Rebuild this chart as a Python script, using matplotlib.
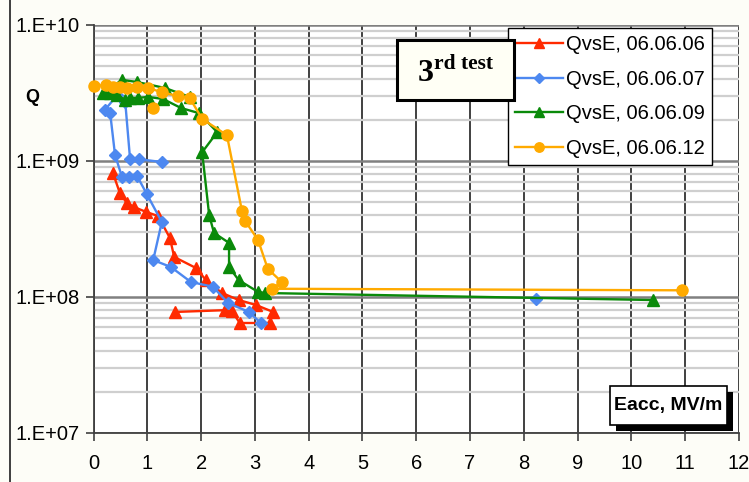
import matplotlib
matplotlib.use("Agg")
import matplotlib.pyplot as plt
import numpy as np
from matplotlib.patches import Rectangle
from matplotlib.ticker import FixedLocator, LogLocator, NullFormatter, FuncFormatter

plt.rcParams['font.family'] = ['Liberation Sans', 'DejaVu Sans']

# ---- data ----
red_E = [0.36, 0.49, 0.62, 0.75, 0.98, 1.20, 1.42, 1.50, 1.91, 2.09, 2.39, 2.70, 3.02, 3.34, 3.28, 2.72, 2.57, 2.44, 1.51]
red_Q = [8.17e8, 5.82e8, 4.91e8, 4.59e8, 4.22e8, 3.94e8, 2.72e8, 1.97e8, 1.63e8, 1.33e8, 1.07e8, 9.5e7, 8.74e7, 7.76e7, 6.44e7, 6.44e7, 7.89e7, 8.0e7, 7.76e7]

blue_E = [1.27, 0.85, 0.68, 0.59, 0.44, 0.21, 0.31, 0.40, 0.53, 0.66, 0.81, 0.99, 1.27, 1.11, 1.44, 1.81, 2.22, 2.50, 2.89, 3.11]
blue_Q = [9.83e8, 1.03e9, 1.03e9, 2.72e9, 3.05e9, 2.37e9, 2.25e9, 1.11e9, 7.62e8, 7.62e8, 7.76e8, 5.72e8, 3.56e8, 1.87e8, 1.66e8, 1.29e8, 1.19e8, 9.04e7, 7.76e7, 6.44e7]
blue_extra_E = [8.22]
blue_extra_Q = [9.66e7]

green_E = [1.79, 1.33, 0.81, 0.53, 0.18, 0.31, 0.44, 0.59, 0.68, 0.83, 1.01, 1.29, 1.63, 1.96, 2.30, 2.02, 2.15, 2.24, 2.52, 2.52, 2.70, 3.06, 3.19, 10.40]
green_Q = [2.96e9, 3.44e9, 3.81e9, 3.95e9, 3.16e9, 3.16e9, 3.05e9, 2.81e9, 2.91e9, 2.91e9, 2.96e9, 2.86e9, 2.45e9, 2.25e9, 1.63e9, 1.16e9, 4.01e8, 2.96e8, 2.50e8, 1.66e8, 1.33e8, 1.09e8, 1.07e8, 9.5e7]

orange_E = [0.0, 0.23, 0.36, 0.49, 0.62, 0.81, 1.01, 1.27, 1.57, 1.79, 2.02, 2.48, 2.76, 2.82, 3.06, 3.24, 3.50, 3.32, 10.94]
orange_Q = [3.56e9, 3.62e9, 3.50e9, 3.50e9, 3.44e9, 3.50e9, 3.44e9, 3.21e9, 3.0e9, 2.9e9, 2.04e9, 1.55e9, 4.29e8, 3.62e8, 2.62e8, 1.61e8, 1.29e8, 1.15e8, 1.12e8]
orange_extra_E = [1.11]
orange_extra_Q = [2.45e9]

labels = ["QvsE, 06.06.06", "QvsE, 06.06.07", "QvsE, 06.06.09", "QvsE, 06.06.12"]
x_ticks = list(range(0, 13))
y_ticks = [1e7, 1e8, 1e9, 1e10]

W, H = 749, 482
fig = plt.figure(figsize=(W / 100, H / 100), dpi=100, facecolor='#fdfdf7')

def fx(x):
    return x / W

def fy(y):
    return 1 - y / H

ax = fig.add_axes([fx(93.5), fy(433), fx(739) - fx(93.5), fy(25) - fy(433)])
ax.set_facecolor('white')
ax.set_xlim(0, 12)
ax.set_yscale('log')
ax.set_ylim(1e7, 1e10)

ax.xaxis.set_major_locator(FixedLocator(x_ticks))
ax.yaxis.set_major_locator(FixedLocator(y_ticks))
ax.yaxis.set_minor_locator(LogLocator(base=10, subs=np.arange(2, 10)))
ax.yaxis.set_minor_formatter(NullFormatter())
ax.yaxis.set_major_formatter(FuncFormatter(lambda v, p: "1.E+%02d" % int(round(np.log10(v)))))

ax.grid(which='minor', axis='y', color='#cfcfcf', lw=1.6, zorder=0)
ax.grid(which='major', axis='y', color='#808080', lw=1.8, zorder=0)
ax.grid(which='major', axis='x', color='#202020', lw=1.2, zorder=0)
ax.set_axisbelow(True)

for s in ['top', 'right']:
    ax.spines[s].set_visible(False)
ax.spines['left'].set_color('#404040')
ax.spines['bottom'].set_color('#404040')
ax.spines['left'].set_linewidth(1.3)
ax.spines['bottom'].set_linewidth(1.3)

ax.tick_params(axis='both', which='major', labelsize=14.5, length=6, width=1.2, color='#404040', pad=4)
ax.tick_params(axis='y', which='minor', length=0)
ax.tick_params(axis='x', pad=9)

l1, = ax.plot(red_E, red_Q, color='#ff2a00', lw=1.7, marker='^', ms=9, zorder=3, label=labels[0], clip_on=False)
l2, = ax.plot(blue_E, blue_Q, color='#4d88f0', lw=1.7, marker='D', ms=6.5, zorder=4, label=labels[1], clip_on=False)
ax.plot(blue_extra_E, blue_extra_Q, color='#4d88f0', lw=0, marker='D', ms=6.5, zorder=4)
l3, = ax.plot(green_E, green_Q, color='#0a8a0a', lw=1.7, marker='^', ms=9, zorder=5, label=labels[2], clip_on=False)
l4, = ax.plot(orange_E, orange_Q, color='#ffaa00', lw=1.7, marker='o', ms=8, zorder=6, label=labels[3], clip_on=False)
ax.plot(orange_extra_E, orange_extra_Q, color='#ffaa00', lw=0, marker='o', ms=8, zorder=6)

leg = fig.legend(handles=[l1, l2, l3, l4], loc='upper left',
                 bbox_to_anchor=(fx(508), fy(28)), bbox_transform=fig.transFigure,
                 fontsize=14.5, frameon=True, fancybox=False, edgecolor='black',
                 framealpha=1, facecolor='white', borderpad=0.35, labelspacing=0.78,
                 handlelength=2.4, handletextpad=0.15, borderaxespad=0, numpoints=1,
                 markerscale=0.85)
leg.get_frame().set_linewidth(1.0)
leg.set_zorder(20)

# title box
tb = Rectangle((fx(397), fy(100)), fx(514) - fx(397), fy(40) - fy(100), transform=fig.transFigure,
               facecolor='#fffff5', edgecolor='black', lw=2.2, zorder=21)
fig.patches.append(tb)
fig.text(fx(418), fy(81), "3", fontsize=23, fontweight='bold', family=['Liberation Serif', 'DejaVu Serif'],
         ha='left', va='baseline', zorder=22)
fig.text(fx(434), fy(69), "rd test", fontsize=15.5, fontweight='bold', family=['Liberation Serif', 'DejaVu Serif'],
         ha='left', va='baseline', zorder=22)

# x-axis label box with shadow
sh = Rectangle((fx(616), fy(431)), fx(727) - fx(610), fy(386) - fy(425), transform=fig.transFigure,
               facecolor='black', edgecolor='black', lw=0, zorder=21)
fig.patches.append(sh)
xb = Rectangle((fx(610), fy(425)), fx(727) - fx(610), fy(386) - fy(425), transform=fig.transFigure,
               facecolor='white', edgecolor='black', lw=1.2, zorder=22)
fig.patches.append(xb)
fig.text(fx(668.5), fy(405.5), "Eacc, MV/m", fontsize=14, fontweight='bold', ha='center', va='center', zorder=23)

# y label
fig.text(fx(32), fy(97), "Q", fontsize=13, fontweight='bold', ha='center', va='center')

# figure left border
fig.add_artist(plt.Line2D([fx(10), fx(10)], [0, 1], transform=fig.transFigure, color='#303030', lw=1.3))

fig.savefig("out.png", dpi=100, facecolor=fig.get_facecolor())
